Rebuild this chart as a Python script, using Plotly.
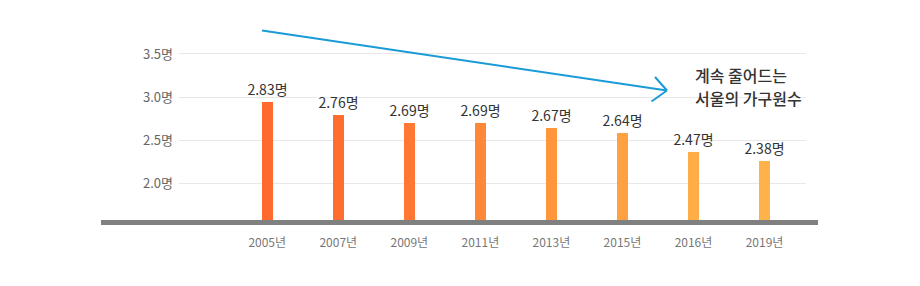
import plotly.graph_objects as go

# ---- data ----
years = ["2005년", "2007년", "2009년", "2011년", "2013년", "2015년", "2016년", "2019년"]
labeled_values = [2.83, 2.76, 2.69, 2.69, 2.67, 2.64, 2.47, 2.38]      # values printed above bars
drawn_heights = [2.94, 2.79, 2.70, 2.70, 2.64, 2.58, 2.36, 2.26]       # bar heights as drawn in the picture
bar_colors = ["#FF6A2E", "#FF6D2F", "#FF7833", "#FF8838", "#FF963C", "#FFA141", "#FFAD46", "#FFB249"]
y_ticks = [2.0, 2.5, 3.0, 3.5]
y_tick_text = ["2.0명", "2.5명", "3.0명", "3.5명"]
note_lines = ["계속 줄어드는", "서울의 가구원수"]

FONT = "Noto Sans CJK KR, Noto Sans, sans-serif"
W, H = 920, 286
L, R, T, B = 179, 114, 40, 66
PW, PH = W - L - R, H - T - B


def px(x):
    return (x - L) / PW


def py(y):
    return (H - B - y) / PH


fig = go.Figure()
fig.add_trace(go.Bar(
    x=years,
    y=drawn_heights,
    marker=dict(color=bar_colors, line=dict(width=0)),
    width=0.155,
    text=[f"{v:.2f}명" for v in labeled_values],
    textposition="outside",
    constraintext="none",
    textfont=dict(family=FONT, size=14, color="#333333"),
    cliponaxis=False,
    hoverinfo="skip",
))

shapes = [
    # thick grey base line
    dict(type="line", xref="paper", yref="paper", x0=px(101), x1=px(818), y0=py(222.5), y1=py(222.5),
         line=dict(color="#808080", width=5), layer="above"),
    # blue trend arrow
    dict(type="line", xref="paper", yref="paper", x0=px(262), y0=py(30.5), x1=px(667), y1=py(90.5),
         line=dict(color="#1A9BD7", width=2)),
    dict(type="line", xref="paper", yref="paper", x0=px(655), y0=py(77), x1=px(667), y1=py(90.5),
         line=dict(color="#1A9BD7", width=2)),
    dict(type="line", xref="paper", yref="paper", x0=px(651.5), y0=py(101.5), x1=px(667), y1=py(90.5),
         line=dict(color="#1A9BD7", width=2)),
]

annotations = []
for i, line in enumerate(note_lines):
    annotations.append(dict(
        xref="paper", yref="paper", x=px(693), y=py(75 + 23 * i), xanchor="left", yanchor="middle",
        text=line, showarrow=False,
        font=dict(family=FONT, size=16, color="#333333", weight=500),
    ))

fig.update_layout(
    width=W, height=H,
    margin=dict(l=L, r=R, t=T, b=B, pad=0),
    paper_bgcolor="white", plot_bgcolor="white",
    showlegend=False,
    shapes=shapes,
    annotations=annotations,
    bargap=0,
    uniformtext=dict(mode=False),
    xaxis=dict(
        type="category", range=[-1.242, 7.584], showgrid=False, zeroline=False, showline=False,
        ticks="", tickfont=dict(family=FONT, size=12, color="#777777"), ticklabelstandoff=14,
        fixedrange=True,
    ),
    yaxis=dict(
        range=[1.574, 3.662], tickvals=y_ticks, ticktext=y_tick_text,
        showgrid=True, gridcolor="#E8E8E8", gridwidth=1, zeroline=False, showline=False,
        ticks="", tickfont=dict(family=FONT, size=13, color="#666666"), ticklabelstandoff=5,
        fixedrange=True,
    ),
)

fig.write_html("out.html", config={"displayModeBar": False})
